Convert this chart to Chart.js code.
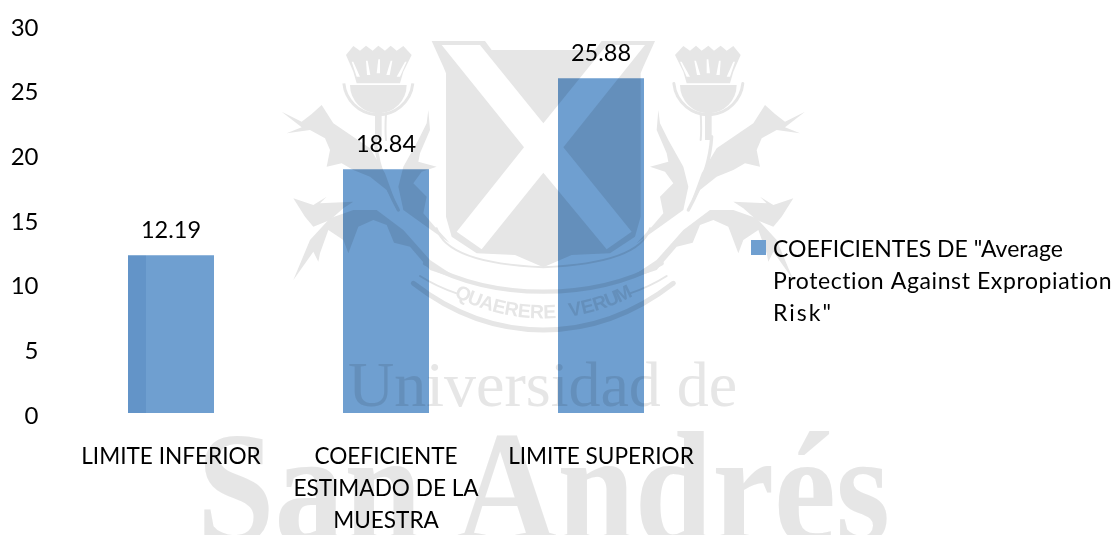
<!DOCTYPE html>
<html><head><meta charset="utf-8">
<script src="https://cdn.jsdelivr.net/npm/chart.js@4"></script>
<style>html,body{margin:0;padding:0;background:#fff}canvas{display:block}</style>
</head><body><canvas id="c" width="1115" height="535"></canvas>
<script>
const categories = [["LIMITE INFERIOR"], ["COEFICIENTE", "ESTIMADO DE LA", "MUESTRA"], ["LIMITE SUPERIOR"]];
const values = [12.19, 18.84, 25.88];
const seriesName = 'COEFICIENTES DE "Average Protection Against Expropiation Risk"';
const legendLines = ['COEFICIENTES DE "Average', 'Protection Against Expropiation', 'Risk"'];
const legendSpacing = ['0px', '0.6px', '2px'];
const FONT = 'Lato, "Open Sans", sans-serif';
const GRAY = '#e6e6e6';

function poly(c, pts, dx, dy) {
  c.beginPath();
  pts.forEach((p, i) => { i ? c.lineTo(p[0] + dx, p[1] + dy) : c.moveTo(p[0] + dx, p[1] + dy); });
  c.closePath(); c.fill();
}
function curve(c, pts, w) {
  c.lineWidth = w; c.lineCap = 'round'; c.lineJoin = 'round';
  c.beginPath(); c.moveTo(pts[0][0], pts[0][1]);
  for (let i = 1; i + 1 < pts.length; i += 2) c.quadraticCurveTo(pts[i][0], pts[i][1], pts[i + 1][0], pts[i + 1][1]);
  c.stroke();
}
function thistleHalf(c) {
  c.fillStyle = GRAY; c.strokeStyle = GRAY;
  poly(c, [[258,75],[280,48],[300,62],[318,47],[338,62],[355,47],[375,62],[392,47],[410,62],[430,48],[455,75],[430,125],[420,160],[290,160],[280,125]], 0, 0);
  c.beginPath(); c.arc(355, 165, 85, 0, Math.PI); c.fill();
  c.lineWidth = 9; c.beginPath(); c.arc(355, 150, 104, 0.1, Math.PI - 0.1); c.stroke();
  c.fillStyle = '#fff';
  [[275,95,295,140],[318,92,326,135],[392,92,384,135],[435,95,415,140],[355,88,355,130]].forEach(t => {
    poly(c, [[t[0],t[1]],[t[0]+5,t[1]],[t[2]+5,t[3]],[t[2]-5,t[3]]], 0, 0);
  });
  c.fillStyle = GRAY;
  poly(c, [[345,245],[365,245],[365,330],[345,330]], 0, 0);
  curve(c, [[345,320],[350,420],[415,540]], 10);
  curve(c, [[378,250],[375,300],[378,330]], 6);
  // upper-left leaf
  poly(c, [[35,215],[95,245],[125,222],[155,195],[190,250],[300,325],[345,400],[385,510],[350,450],[300,410],[250,390],[215,370],[170,380],[180,330],[165,295],[120,270],[50,280],[95,262]], 30, 30);
  // upper-right leaf
  poly(c, [[475,210],[480,270],[450,340],[445,365],[500,380],[455,395],[430,430],[470,470],[460,520],[490,555],[540,610],[470,560],[400,510],[385,440],[400,380],[445,300],[470,250]], 30, 30);
  // lower leaf
  poly(c, [[70,475],[130,495],[170,470],[150,490],[250,485],[220,505],[180,540],[130,560],[105,530]], 30, 30);
  poly(c, [[70,720],[120,600],[180,535],[250,510],[320,510],[400,570],[480,660],[570,720],[480,690],[420,620],[372,608],[350,555],[310,540],[265,560],[235,640],[220,600],[175,570],[150,640],[145,665],[130,635]], 30, 30);
}
function drawEmblem(c) {
  c.save();
  c.translate(260, 30); c.scale(1 / 3, 1 / 3);
  thistleHalf(c);
  c.save(); c.translate(1700, 0); c.scale(-1, 1); thistleHalf(c); c.restore();
  c.fillStyle = GRAY; c.strokeStyle = GRAY;
  poly(c, [[515,33],[675,33],[695,60],[1005,60],[1025,33],[1185,33],[1150,110],[1142,130],[1142,560],[1125,620],[1050,670],[935,675],[850,712],[765,675],[650,670],[575,620],[558,560],[558,130],[550,110]], 0, 0);
  c.fillStyle = '#fff';
  poly(c, [[545,45],[660,45],[850,280],[1040,45],[1155,45],[910,352],[1115,605],[1040,658],[850,428],[665,658],[590,605],[792,352]], 0, 0);
  c.fillStyle = GRAY;
  c.strokeStyle = GRAY;
  curve(c, [[530,595],[560,700],[850,712],[1140,700],[1170,595]], 6);
  curve(c, [[495,700],[650,785],[850,785],[1050,785],[1205,700]], 13);
  curve(c, [[460,760],[640,900],[850,900],[1060,900],[1240,760]], 15);
  curve(c, [[480,738],[530,770],[590,790]], 6);
  curve(c, [[1220,738],[1170,770],[1110,790]], 6);
  c.fillStyle = GRAY;
  c.font = 'bold 58px "Liberation Sans", sans-serif';
  c.textAlign = 'center'; c.textBaseline = 'alphabetic';
  const motto = 'QUAERERE VERUM'; const R = 573, n = motto.length;
  for (let i = 0; i < n; i++) {
    const a = (i - (n - 1) / 2) * 3.95 * Math.PI / 180;
    c.save(); c.translate(850 + R * Math.sin(a), 292 + R * Math.cos(a)); c.rotate(-a);
    c.fillText(motto[i], 0, 0); c.restore();
  }
  c.restore();
}
const fixPlotArea = {
  id: 'fixPlotArea',
  afterLayout(chart) {
    const y = chart.scales.y, top = 25;
    y.top = top; y.height = y.bottom - top; y.configure();
    chart.chartArea.top = top; chart.chartArea.height = chart.chartArea.bottom - top;
  }
};
const watermark = {
  id: 'watermark',
  afterDatasetsDraw(chart) {
    const { ctx } = chart;
    const off = document.createElement('canvas');
    off.width = chart.width; off.height = chart.height;
    const o = off.getContext('2d');
    o.fillStyle = '#fff'; o.fillRect(0, 0, off.width, off.height);
    drawEmblem(o);
    ctx.save();
    ctx.globalCompositeOperation = 'multiply';
    ctx.drawImage(off, 0, 0);
    ctx.fillStyle = GRAY;
    ctx.textAlign = 'left'; ctx.textBaseline = 'alphabetic';
    ctx.font = '64px "Liberation Serif", serif';
    ctx.fillText('Universidad de', 348, 406);
    ctx.save();
    ctx.setTransform(0.882, 0, 0, 1, 197, 541);
    ctx.font = 'bold 158px "Liberation Serif", serif';
    ctx.fillText('San Andrés', 0, 0);
    ctx.restore();
    const b = chart.getDatasetMeta(0).data[0];
    ctx.fillStyle = '#e4eef6';
    ctx.fillRect(b.x - b.width / 2, b.y, 18, b.base - b.y);
    ctx.restore();
  }
};
const valueLabels = {
  id: 'valueLabels',
  afterDatasetsDraw(chart) {
    const { ctx } = chart;
    ctx.save();
    ctx.fillStyle = '#000'; ctx.font = '23.5px ' + FONT;
    ctx.textAlign = 'center'; ctx.textBaseline = 'middle';
    chart.getDatasetMeta(0).data.forEach((el, i) => {
      ctx.fillText(values[i].toFixed(2), el.x, el.y - 25);
    });
    ctx.restore();
  }
};
const sideLegend = {
  id: 'sideLegend',
  afterDraw(chart) {
    const { ctx } = chart;
    ctx.save();
    ctx.fillStyle = '#6f9fd0'; ctx.fillRect(751, 240, 15, 15);
    ctx.fillStyle = '#000'; ctx.font = '23px ' + FONT;
    ctx.textAlign = 'left'; ctx.textBaseline = 'middle';
    legendLines.forEach((l, i) => { ctx.letterSpacing = legendSpacing[i]; ctx.fillText(l, 773, 250 + 32 * i); });
    ctx.restore();
  }
};
new Chart(document.getElementById('c'), {
  type: 'bar',
  data: { labels: categories, datasets: [{ label: seriesName, data: values, backgroundColor: '#6f9fd0', borderWidth: 0, barPercentage: 0.4, categoryPercentage: 1 }] },
  options: {
    responsive: false, animation: false,
    layout: { padding: { left: 0, right: 406.5, top: 25, bottom: 0 } },
    plugins: { legend: { display: false }, tooltip: { enabled: false } },
    scales: {
      x: {
        grid: { display: false, drawTicks: false }, border: { display: false },
        afterFit(s) { s.height = 122; },
        ticks: { color: '#000', padding: 28, maxRotation: 0, minRotation: 0, autoSkip: false, font: { family: FONT, size: 22.6, lineHeight: 32 / 22.6 } }
      },
      y: {
        min: 0, max: 30,
        grid: { display: false, drawTicks: false }, border: { display: false },
        afterFit(s) { s.width = 63.5; },
        ticks: { stepSize: 5, color: '#000', padding: 25, labelOffset: 3, font: { family: FONT, size: 24 } }
      }
    }
  },
  plugins: [fixPlotArea, watermark, valueLabels, sideLegend]
});
</script></body></html>
